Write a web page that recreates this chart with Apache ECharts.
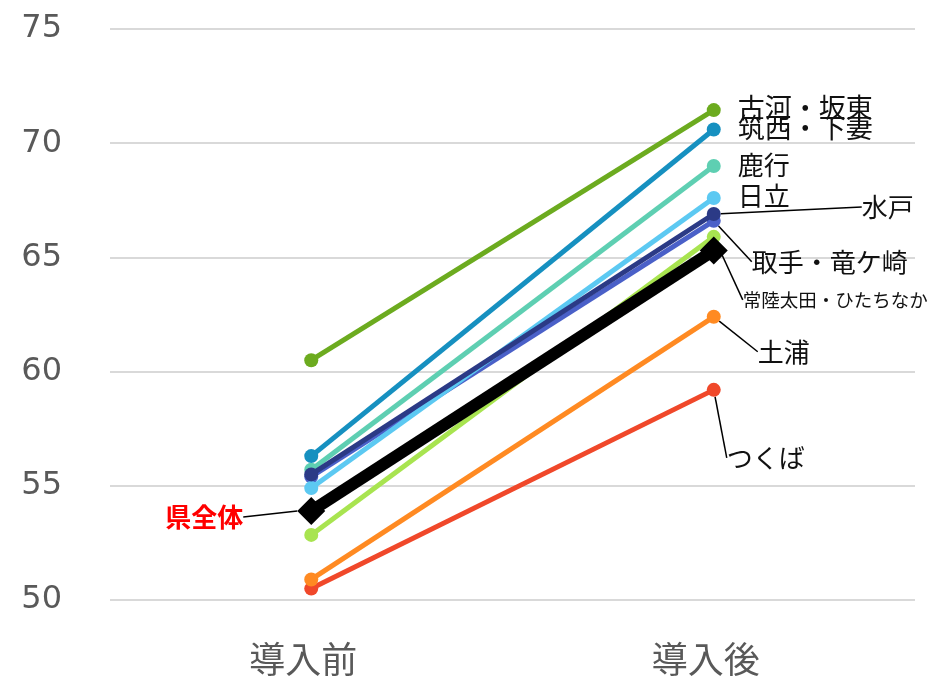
<!DOCTYPE html>
<html><head><meta charset="utf-8">
<script src="https://cdn.jsdelivr.net/npm/echarts@6/dist/echarts.min.js"></script>
<style>html,body{margin:0;padding:0;background:#fff}#c{width:930px;height:681px}</style>
</head><body><div id="c"></div>
<script>
const categories = ['導入前', '導入後'];
const regionNames = ['つくば', '土浦', '常陸太田・ひたちなか', '取手・竜ケ崎', '日立', '鹿行', '水戸', '筑西・下妻', '古河・坂東', '県全体'];
const beforeValues = [50.5, 50.9, 52.85, 55.4, 54.9, 55.7, 55.5, 56.3, 60.5, 53.9];
const afterValues  = [59.2, 62.4, 65.9, 66.6, 67.6, 69.0, 66.9, 70.6, 71.45, 65.3];
const yTicks = [50, 55, 60, 65, 70, 75];

// styles (kept separate from data)
const colors = ['#f0482a', '#ff8a22', '#a8e450', '#4a60c8', '#5cc9f2', '#5ecfb2', '#2b3a86', '#1690c0', '#6cab1f', '#000000'];
// label placement: [dataIndex, position, dx, dy, fontSize, showLeader]
const labelCfg = [
  [1, 'right', 1, 68, 26, true],
  [1, 'right', 32, 35, 26, true],
  [1, 'right', 17, 63, 18.5, true],
  [1, 'right', 26, 41, 26, true],
  [1, 'right', 12, -2, 26, false],
  [1, 'right', 12, -1, 26, false],
  [1, 'right', 136, -7, 26, true],
  [1, 'right', 12, -2, 27, false],
  [1, 'right', 12, -2, 27, false],
  [0, 'left', -49, 6, 26, true]
];

const series = regionNames.map((name, i) => {
  const isTotal = name === '県全体';
  const cfg = labelCfg[i];
  const data = [beforeValues[i], afterValues[i]].map((v, k) => {
    const item = { value: v };
    if (k === cfg[0]) {
      item.label = {
        show: true,
        position: cfg[1],
        formatter: name,
        fontSize: cfg[4],
        color: isTotal ? '#ff0000' : '#111',
        fontWeight: isTotal ? 'bold' : 'normal',
        fontFamily: 'Noto Sans CJK JP'
      };
    }
    return item;
  });
  return {
    name: name,
    type: 'line',
    data: data,
    symbol: isTotal ? 'diamond' : 'circle',
    symbolSize: isTotal ? 28 : 14,
    lineStyle: { color: colors[i], width: isTotal ? 12 : 5 },
    itemStyle: { color: colors[i] },
    z: 2 + i,
    label: { show: false },
    labelLayout: { dx: cfg[2], dy: cfg[3] },
    labelLine: { show: cfg[5], lineStyle: { color: '#000', width: 1.5 } },
    animation: false
  };
});

const chart = echarts.init(document.getElementById('c'));
chart.setOption({
  backgroundColor: '#fff',
  animation: false,
  grid: { left: 110, right: 15, top: 29, bottom: 81 },
  xAxis: {
    type: 'category',
    data: categories,
    boundaryGap: true,
    axisLine: { show: false },
    axisTick: { show: false },
    axisLabel: { fontSize: 36, color: '#595959', margin: 41, padding: [0, 16, 0, 0], fontFamily: 'Noto Sans CJK JP' }
  },
  yAxis: {
    type: 'value',
    min: yTicks[0],
    max: yTicks[yTicks.length - 1],
    interval: 5,
    axisLine: { show: false },
    axisTick: { show: false },
    splitLine: { lineStyle: { color: '#d9d9d9', width: 2 } },
    axisLabel: { fontSize: 32, color: '#595959', margin: 48, fontFamily: 'DejaVu Sans', align: 'right' }
  },
  series: series
});
</script>
</body></html>
